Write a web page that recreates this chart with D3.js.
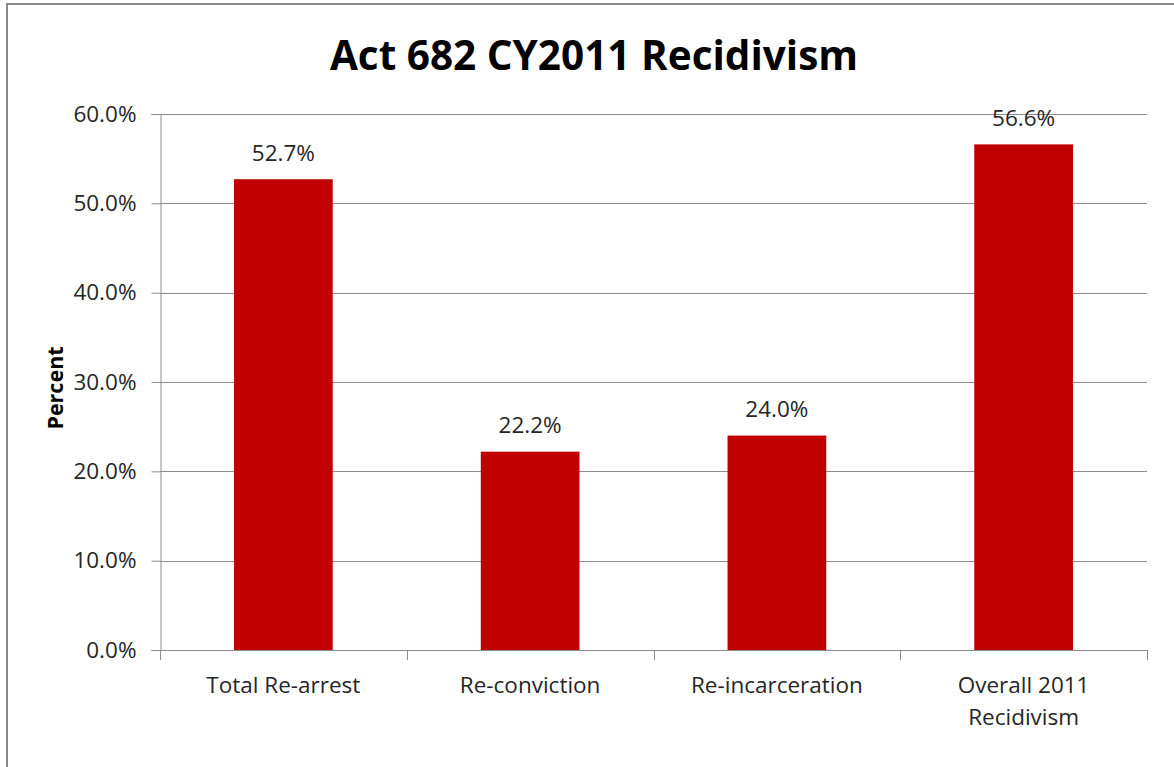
<!DOCTYPE html>
<html>
<head>
<meta charset="utf-8">
<script src="https://cdn.jsdelivr.net/npm/d3@7"></script>
<style>
  body { margin: 0; background: #fff; }
  text { font-family: "Open Sans", "Liberation Sans", sans-serif; }
</style>
</head>
<body>
<div id="chart"></div>
<script>
// chart data
let categories = ["Total Re-arrest", "Re-conviction", "Re-incarceration", "Overall 2011 Recidivism"];
let values = [52.7, 22.2, 24.0, 56.6];
let yTicks = [0, 10, 20, 30, 40, 50, 60];
let titleText = "Act 682 CY2011 Recidivism";
let yTitle = "Percent";

let svgWidth = 1174;
let svgHeight = 767;

// plot area in page coords
let plot = { left: 160, right: 1147, top: 114, bottom: 650 };
let labelSize = "22.5px";

let svg = d3.select("#chart")
  .append("svg")
  .attr("width", svgWidth)
  .attr("height", svgHeight);

svg.append("rect")
  .attr("width", svgWidth)
  .attr("height", svgHeight)
  .attr("fill", "#fff");

// outer frame (only top and left visible)
svg.append("path")
  .attr("d", `M7,${svgHeight} V4 H${svgWidth}`)
  .attr("fill", "none")
  .attr("stroke", "#888")
  .attr("stroke-width", 2);

let x = d3.scaleBand()
  .domain(categories)
  .range([plot.left, plot.right])
  .padding(0);

let y = d3.scaleLinear()
  .domain([0, 60])
  .range([plot.bottom, plot.top]);

// gridlines
svg.append("g")
  .selectAll("line")
  .data(yTicks.filter(d => d > 0))
  .enter()
  .append("line")
  .attr("x1", plot.left)
  .attr("x2", plot.right)
  .attr("y1", d => Math.round(y(d)) + 0.5)
  .attr("y2", d => Math.round(y(d)) + 0.5)
  .attr("stroke", "#8c8c8c")
  .attr("stroke-width", 1);

// bars
let barW = x.bandwidth() * 0.4;
svg.append("g")
  .selectAll("rect")
  .data(values)
  .enter()
  .append("rect")
  .attr("x", (d, i) => x(categories[i]) + (x.bandwidth() - barW) / 2)
  .attr("y", d => y(d))
  .attr("width", barW)
  .attr("height", d => plot.bottom - y(d))
  .attr("fill", "#c00000");

// value labels
svg.append("g")
  .selectAll("text")
  .data(values)
  .enter()
  .append("text")
  .attr("x", (d, i) => x(categories[i]) + x.bandwidth() / 2)
  .attr("y", d => y(d) - 18.5)
  .attr("text-anchor", "middle")
  .attr("font-size", labelSize)
  .attr("fill", "#262626")
  .text(d => d.toFixed(1) + "%");

// y axis
let leftAxis = d3.axisLeft(y)
  .tickValues(yTicks)
  .tickSize(9)
  .tickPadding(15)
  .tickFormat(d => d.toFixed(1) + "%");

let yAxis = svg.append("g")
  .attr("transform", `translate(${plot.left + 0.5},0)`)
  .call(leftAxis);

yAxis.select(".domain").attr("stroke", "#8c8c8c");
yAxis.selectAll(".tick line").attr("stroke", "#8c8c8c");
yAxis.selectAll(".tick text")
  .attr("font-size", labelSize)
  .attr("fill", "#262626")
  .attr("font-family", null);

// x axis: line with ticks at band edges
svg.append("line")
  .attr("x1", plot.left)
  .attr("x2", plot.right)
  .attr("y1", plot.bottom + 0.5)
  .attr("y2", plot.bottom + 0.5)
  .attr("stroke", "#8c8c8c");

let edges = categories.map(c => x(c)).concat([plot.right]);
svg.append("g")
  .selectAll("line")
  .data(edges)
  .enter()
  .append("line")
  .attr("x1", d => Math.round(d) + 0.5)
  .attr("x2", d => Math.round(d) + 0.5)
  .attr("y1", plot.bottom)
  .attr("y2", plot.bottom + 10)
  .attr("stroke", "#8c8c8c");

// category labels, wrapped like the original
let catLines = [["Total Re-arrest"], ["Re-conviction"], ["Re-incarceration"], ["Overall 2011", "Recidivism"]];
let catLabels = svg.append("g")
  .selectAll("text")
  .data(categories)
  .enter()
  .append("text")
  .attr("x", d => x(d) + x.bandwidth() / 2)
  .attr("y", 693)
  .attr("text-anchor", "middle")
  .attr("font-size", labelSize)
  .attr("fill", "#262626");

catLabels.each(function(d, i) {
  let t = d3.select(this);
  catLines[i].forEach((line, j) => {
    t.append("tspan")
      .attr("x", x(d) + x.bandwidth() / 2)
      .attr("dy", j === 0 ? 0 : 32)
      .text(line);
  });
});

// y axis title
svg.append("text")
  .attr("transform", "translate(63,388) rotate(-90)")
  .attr("text-anchor", "middle")
  .attr("font-size", "21.5px")
  .attr("font-weight", "bold")
  .attr("fill", "#000")
  .text(yTitle);

// chart title
let title = svg.append("text")
  .attr("x", 594)
  .attr("y", 70)
  .attr("text-anchor", "middle")
  .attr("font-size", "40px")
  .attr("font-weight", "bold")
  .attr("fill", "#000")
  .text(titleText);

// keep title at the original width
let tw = title.node().getComputedTextLength();
title.attr("font-size", (40 * 528 / tw).toFixed(1) + "px");
</script>
</body>
</html>
